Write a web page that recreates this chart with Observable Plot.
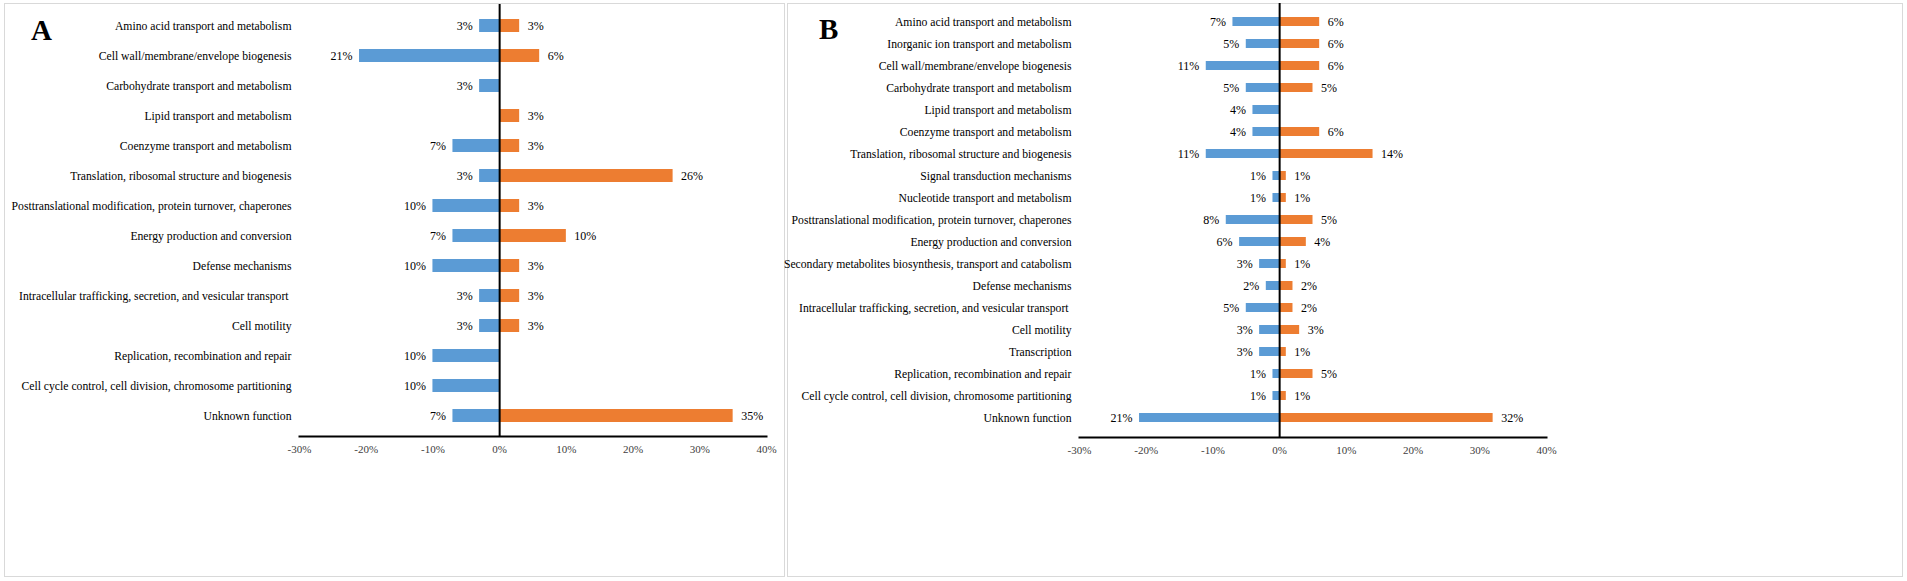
<!DOCTYPE html>
<html>
<head>
<meta charset="utf-8">
<script src="https://cdn.jsdelivr.net/npm/d3@7"></script>
<script src="https://cdn.jsdelivr.net/npm/@observablehq/plot@0.6"></script>
<style>
  html, body { margin: 0; padding: 0; background: #fff; }
  body { width: 1907px; height: 581px; position: relative; overflow: hidden; font-family: "Liberation Serif", "Times New Roman", serif; }
  .panel { position: absolute; border: 1px solid #d9d9d9; box-sizing: border-box; }
  .chart { position: absolute; top: 0; }
  .letter { position: absolute; font-family: "Liberation Serif", serif; font-weight: bold; font-size: 29px; line-height: 1; color: #000; }
</style>
</head>
<body>
<div class="panel" style="left:4px;top:3px;width:781px;height:574px;"></div>
<div class="panel" style="left:787px;top:3px;width:1116px;height:574px;"></div>
<div id="chartA" class="chart" style="left:0px;"></div>
<div id="chartB" class="chart" style="left:785px;"></div>
<div class="letter" style="left:31px;top:16px;">A</div>
<div class="letter" style="left:819px;top:15px;">B</div>
<script>
// ---- Panel A data ----
const categoriesA = [
  "Amino acid transport and metabolism",
  "Cell wall/membrane/envelope biogenesis",
  "Carbohydrate transport and metabolism",
  "Lipid transport and metabolism",
  "Coenzyme transport and metabolism",
  "Translation, ribosomal structure and biogenesis",
  "Posttranslational modification, protein turnover, chaperones",
  "Energy production and conversion",
  "Defense mechanisms",
  "Intracellular trafficking, secretion, and vesicular transport ",
  "Cell motility",
  "Replication, recombination and repair",
  "Cell cycle control, cell division, chromosome partitioning",
  "Unknown function"
];
const blueA   = [3, 21, 3, 0, 7, 3, 10, 7, 10, 3, 3, 10, 10, 7];
const orangeA = [3, 6, 0, 3, 3, 26, 3, 10, 3, 3, 3, 0, 0, 35];

// ---- Panel B data ----
const categoriesB = [
  "Amino acid transport and metabolism",
  "Inorganic ion transport and metabolism",
  "Cell wall/membrane/envelope biogenesis",
  "Carbohydrate transport and metabolism",
  "Lipid transport and metabolism",
  "Coenzyme transport and metabolism",
  "Translation, ribosomal structure and biogenesis",
  "Signal transduction mechanisms",
  "Nucleotide transport and metabolism",
  "Posttranslational modification, protein turnover, chaperones",
  "Energy production and conversion",
  "Secondary metabolites biosynthesis, transport and catabolism",
  "Defense mechanisms",
  "Intracellular trafficking, secretion, and vesicular transport ",
  "Cell motility",
  "Transcription",
  "Replication, recombination and repair",
  "Cell cycle control, cell division, chromosome partitioning",
  "Unknown function"
];
const blueB   = [7, 5, 11, 5, 4, 4, 11, 1, 1, 8, 6, 3, 2, 5, 3, 3, 1, 1, 21];
const orangeB = [6, 6, 6, 5, 0, 6, 14, 1, 1, 5, 4, 1, 2, 2, 3, 1, 5, 1, 32];

const xTicks = [-30, -20, -10, 0, 10, 20, 30, 40];
const BLUE = "#5B9BD5", ORANGE = "#ED7D31";

function makeChart(cats, blue, orange, opts) {
  const rows = cats.map((c, i) => ({cat: c, blue: blue[i], orange: orange[i]}));
  const blueRows = rows.filter(d => d.blue > 0);
  const orangeRows = rows.filter(d => d.orange > 0);
  return Plot.plot({
    width: opts.width,
    height: opts.height,
    marginLeft: opts.marginLeft,
    marginRight: opts.marginRight,
    marginTop: opts.marginTop,
    marginBottom: opts.marginBottom,
    style: {fontFamily: "Liberation Serif, Times New Roman, serif", fontSize: "12px", color: "#000", background: "transparent", overflow: "visible"},
    x: {domain: [-30, 40]},
    y: {domain: cats, paddingInner: 0.58, paddingOuter: 0.29},
    marks: [
      Plot.barX(blueRows, {y: "cat", x1: 0, x2: d => -d.blue, fill: BLUE}),
      Plot.barX(orangeRows, {y: "cat", x1: 0, x2: d => d.orange, fill: ORANGE}),
      Plot.text(blueRows, {y: "cat", x: d => -d.blue, text: d => d.blue + "%", textAnchor: "end", dx: -7, fontSize: 12, fill: "#000"}),
      Plot.text(orangeRows, {y: "cat", x: d => d.orange, text: d => d.orange + "%", textAnchor: "start", dx: 8, fontSize: 12, fill: "#000"}),
      Plot.ruleX([0], {stroke: "#000", strokeWidth: 2}),
      Plot.frame({anchor: "bottom", stroke: "#000", strokeWidth: 2}),
      Plot.axisY({tickSize: 0, tickPadding: 8, label: null, fontSize: 11.7, fill: "#000", textOverflow: null, lineWidth: Infinity}),
      Plot.axisX({ticks: xTicks, tickSize: 0, tickPadding: 9, label: null, tickFormat: d => d + "%", fontSize: 11, fill: "#404040"})
    ]
  });
}

document.getElementById("chartA").appendChild(makeChart(categoriesA, blueA, orangeA, {
  width: 785, height: 470, marginLeft: 299, marginRight: 19, marginTop: 4, marginBottom: 34
}));
document.getElementById("chartB").appendChild(makeChart(categoriesB, blueB, orangeB, {
  width: 1122, height: 470, marginLeft: 294, marginRight: 361, marginTop: 3, marginBottom: 33
}));
</script>
</body>
</html>
